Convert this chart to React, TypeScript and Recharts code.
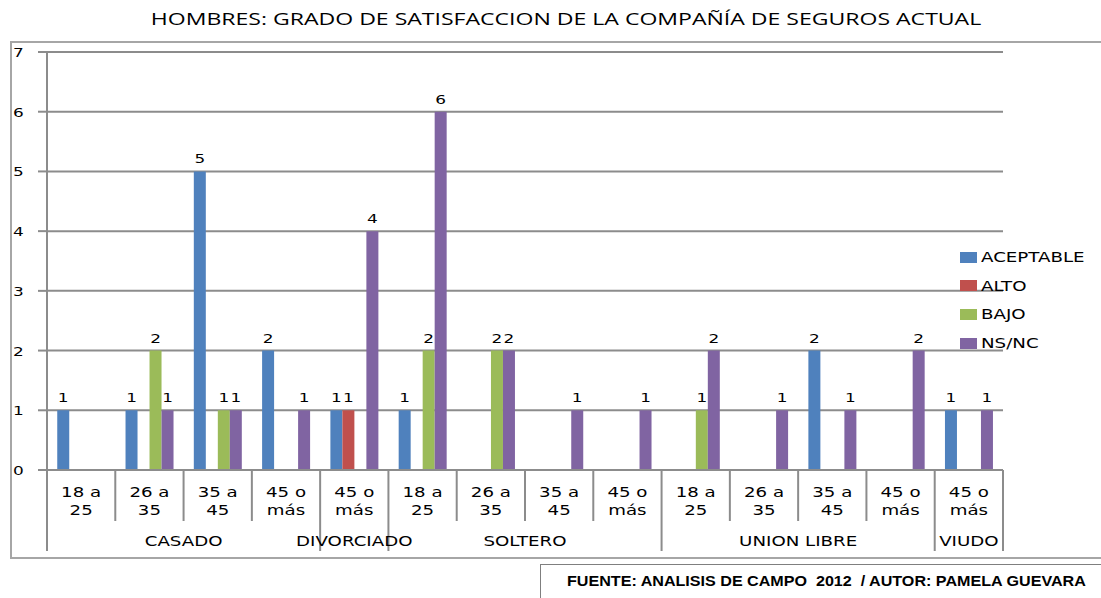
import React from 'react';
import { BarChart, Bar, XAxis, YAxis, CartesianGrid } from 'recharts';

// ---------------- DATA ----------------
const AGES = ['18 a 25', '26 a 35', '35 a 45', '45 o más', '45 o más', '18 a 25', '26 a 35', '35 a 45', '45 o más', '18 a 25', '26 a 35', '35 a 45', '45 o más', '45 o más'];
const GROUPS = ['CASADO', 'CASADO', 'CASADO', 'CASADO', 'DIVORCIADO', 'SOLTERO', 'SOLTERO', 'SOLTERO', 'SOLTERO', 'UNION LIBRE', 'UNION LIBRE', 'UNION LIBRE', 'UNION LIBRE', 'VIUDO'];
const ACEPTABLE = [1, 1, 5, 2, 1, 1, 0, 0, 0, 0, 0, 2, 0, 1];
const ALTO = [0, 0, 0, 0, 1, 0, 0, 0, 0, 0, 0, 0, 0, 0];
const BAJO = [0, 2, 1, 0, 0, 2, 2, 0, 0, 1, 0, 0, 0, 0];
const NSNC = [0, 1, 1, 1, 4, 6, 2, 1, 1, 2, 1, 1, 2, 1];
const Y_TICKS = [0, 1, 2, 3, 4, 5, 6, 7];

const SERIES = [
  { key: 'ACEPTABLE', color: '#4F81BD' },
  { key: 'ALTO', color: '#C0504D' },
  { key: 'BAJO', color: '#9BBB59' },
  { key: 'NS/NC', color: '#8064A2' },
];

const data = AGES.map((age, i) => ({
  age,
  group: GROUPS[i],
  ACEPTABLE: ACEPTABLE[i],
  ALTO: ALTO[i],
  BAJO: BAJO[i],
  'NS/NC': NSNC[i],
}));

// ---------------- LAYOUT ----------------
const W = 1101;
const H = 598;
const PLOT_LEFT = 47;
const PLOT_RIGHT = 1003;
const PLOT_TOP = 52;
const PLOT_BOTTOM = 470;
const BAND = (PLOT_RIGHT - PLOT_LEFT) / AGES.length;
const GRID = '#8c8c8c';
const TXT = "'DejaVu Sans', Verdana, sans-serif";
const STRETCH = 1.3; // the source picture is stretched horizontally

// svg text, widened like the original
const SText = ({ x, y, anchor = 'middle', size = 14, children }: any) => (
  <g transform={`translate(${x},${y}) scale(${STRETCH},1)`}>
    <text x={0} y={0} textAnchor={anchor} fontSize={size} fontFamily={TXT} fill="#000">
      {children}
    </text>
  </g>
);

// ---------------- TICKS ----------------
const YTick = ({ y, payload }: any) => (
  <SText x={13} y={y + 5} anchor="start" size={13}>
    {payload.value}
  </SText>
);

const XTick = ({ x, index }: any) => {
  const [l1, l2] = AGES[index].split(/ (?=\S+$)/);
  const left = x - BAND / 2;
  const right = x + BAND / 2;
  const isGroupStart = index === 0 || GROUPS[index - 1] !== GROUPS[index];
  const isGroupEnd = index === AGES.length - 1 || GROUPS[index + 1] !== GROUPS[index];
  let groupLabel = null;
  if (isGroupStart) {
    const size = GROUPS.filter((g) => g === GROUPS[index]).length;
    groupLabel = (
      <SText x={left + (size * BAND) / 2} y={546}>
        {GROUPS[index]}
      </SText>
    );
  }
  return (
    <g>
      {index === 0 && <line x1={left} x2={left} y1={PLOT_BOTTOM} y2={551} stroke={GRID} strokeWidth={2} />}
      <line x1={right} x2={right} y1={PLOT_BOTTOM} y2={isGroupEnd ? 551 : 521} stroke={GRID} strokeWidth={2} />
      <SText x={x} y={497}>{l1}</SText>
      <SText x={x} y={515}>{l2}</SText>
      {groupLabel}
    </g>
  );
};

const ValueLabel = ({ x, y, width, value }: any) => {
  if (!value) return null;
  return (
    <SText x={x + width / 2} y={y - 8} size={13}>
      {value}
    </SText>
  );
};

const LegendBox = () => (
  <div style={{ position: 'absolute', left: 960, top: 243, fontFamily: TXT, fontSize: 14 }}>
    {SERIES.map((s) => (
      <div key={s.key} style={{ display: 'flex', alignItems: 'center', height: 28.6 }}>
        <span style={{ width: 17, height: 11, background: s.color, marginRight: 4 }} />
        <span style={{ display: 'inline-block', transform: `scaleX(${STRETCH})`, transformOrigin: 'left center' }}>{s.key}</span>
      </div>
    ))}
  </div>
);

// ---------------- COMPONENT ----------------
export default function App() {
  return (
    <div style={{ position: 'absolute', left: 0, top: 0, width: W, height: H, background: '#fff', overflow: 'hidden' }}>
      <div style={{ position: 'absolute', left: 10, top: 41, width: W, height: 514, border: '2px solid #a6a6a6' }} />
      <div
        style={{
          position: 'absolute',
          left: 0,
          top: 8,
          width: 1132,
          textAlign: 'center',
          fontFamily: "'Open Sans', sans-serif",
          fontSize: 16,
          color: '#000',
          whiteSpace: 'nowrap',
          transform: 'scaleX(1.44)',
          transformOrigin: '566px 0',
        }}>
        HOMBRES: GRADO DE SATISFACCION DE LA COMPAÑÍA DE SEGUROS ACTUAL
      </div>
      <div style={{ position: 'absolute', left: 0, top: 0 }}>
        <BarChart
          width={W}
          height={H}
          data={data}
          margin={{ top: PLOT_TOP, right: W - PLOT_RIGHT, left: 10, bottom: 0 }}
          barCategoryGap="15%"
          barGap={0}>
          <CartesianGrid vertical={false} stroke={GRID} strokeWidth={2} />
          <XAxis
            dataKey="age"
            interval={0}
            height={H - PLOT_BOTTOM}
            axisLine={{ stroke: GRID, strokeWidth: 2 }}
            tickLine={false}
            tick={<XTick />}
          />
          <YAxis
            width={PLOT_LEFT - 10}
            domain={[0, 7]}
            ticks={Y_TICKS}
            interval={0}
            tickSize={9}
            axisLine={{ stroke: GRID, strokeWidth: 2 }}
            tickLine={{ stroke: GRID, strokeWidth: 2 }}
            tick={<YTick />}
          />
          {SERIES.map((s) => (
            <Bar key={s.key} dataKey={s.key} fill={s.color} isAnimationActive={false} label={<ValueLabel />} />
          ))}
        </BarChart>
      </div>
      <LegendBox />
      <div
        style={{
          position: 'absolute',
          left: 540,
          top: 564,
          width: 600,
          height: 40,
          border: '1px solid #7f7f7f',
        }}
      />
      <div
        style={{
          position: 'absolute',
          left: 567,
          top: 573,
          fontFamily: "'Liberation Sans', Arial, sans-serif",
          fontWeight: 'bold',
          fontSize: 14,
          color: '#000',
          whiteSpace: 'pre',
          transform: 'scaleX(1.15)',
          transformOrigin: 'left top',
        }}>
        {'FUENTE: ANALISIS DE CAMPO  2012  / AUTOR: PAMELA GUEVARA'}
      </div>
    </div>
  );
}
